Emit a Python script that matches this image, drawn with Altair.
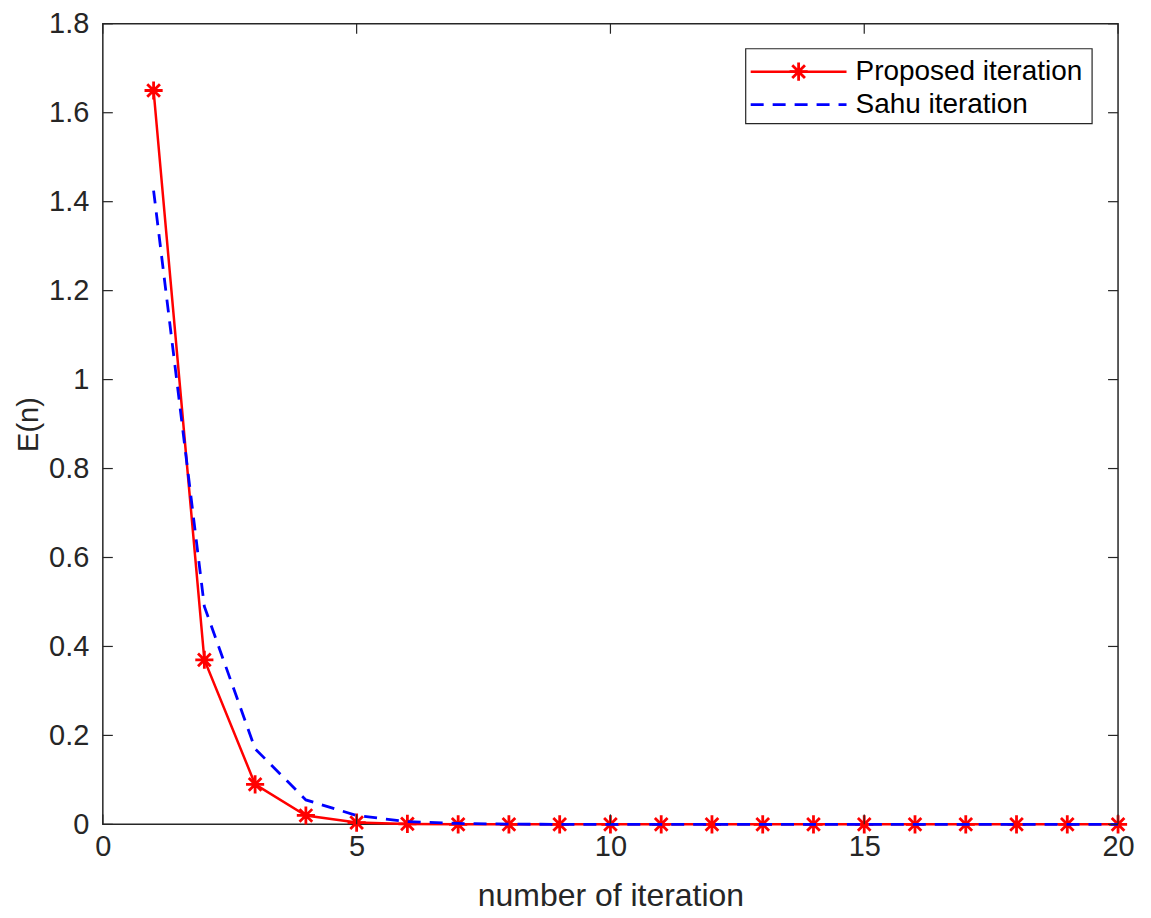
import altair as alt
import pandas as pd

# ---- data ----
iterations = list(range(1, 21))
proposed = [1.65, 0.37, 0.09, 0.02, 0.004, 0.001, 0.0, 0.0, 0.0, 0.0,
            0.0, 0.0, 0.0, 0.0, 0.0, 0.0, 0.0, 0.0, 0.0, 0.0]
sahu = [1.425, 0.49, 0.17, 0.055, 0.02, 0.006, 0.002, 0.0005, 0.0, 0.0,
        0.0, 0.0, 0.0, 0.0, 0.0, 0.0, 0.0, 0.0, 0.0, 0.0]
series_names = ["Proposed iteration", "Sahu iteration"]
x_ticks = [0, 5, 10, 15, 20]
y_ticks = [0, 0.2, 0.4, 0.6, 0.8, 1.0, 1.2, 1.4, 1.6, 1.8]

W, H = 1017, 802
FONT = "Liberation Sans"
TXT = "#262626"
RED = "#ff0000"
BLUE = "#0000ff"
STAR = "M-1,0L1,0M0,-1L0,1M-0.7,-0.7L0.7,0.7M-0.7,0.7L0.7,-0.7"

df_p = pd.DataFrame({"n": iterations, "E": proposed})
df_s = pd.DataFrame({"n": iterations, "E": sahu})
df_xt = pd.DataFrame({"n": x_ticks})
df_yt = pd.DataFrame({"E": y_ticks})
df_one = pd.DataFrame({"name": series_names[:1]})

xs = alt.Scale(domain=[0, 20], nice=False, zero=False)
ys = alt.Scale(domain=[0, 1.8], nice=False)

x_axis = alt.Axis(values=x_ticks, format="~g", ticks=False, grid=False, domain=False,
                  labelFlush=False, labelBound=False,
                  labelFontSize=29, labelFont=FONT, labelColor=TXT, labelPadding=8,
                  title="number of iteration", titleFontSize=32, titleFont=FONT,
                  titleColor=TXT, titleFontWeight="normal", titlePadding=19)
y_axis = alt.Axis(values=y_ticks, format="~g", ticks=False, grid=False, domain=False,
                  labelFlush=False, labelBound=False,
                  labelFontSize=29, labelFont=FONT, labelColor=TXT, labelPadding=14,
                  title="E(n)", titleFontSize=29, titleFont=FONT,
                  titleColor=TXT, titleFontWeight="normal", titlePadding=5)

X = alt.X("n:Q", scale=xs, axis=x_axis)
Y = alt.Y("E:Q", scale=ys, axis=y_axis)

red_line = alt.Chart(df_p).mark_line(color=RED, strokeWidth=2.5).encode(x=X, y=Y)
red_pts = alt.Chart(df_p).mark_point(shape=STAR, stroke=RED, strokeWidth=2.8,
                                     filled=False, size=330, opacity=1).encode(x=X, y=Y)
blue_line = alt.Chart(df_s).mark_line(color=BLUE, strokeWidth=2.8,
                                      strokeDash=[13, 9]).encode(x=X, y=Y)

TL = 10
tick_style = dict(color=TXT, strokeWidth=1.2)
xt_bot = alt.Chart(df_xt).mark_rule(**tick_style).encode(
    x=X, y=alt.value(H), y2=alt.value(H - TL))
xt_top = alt.Chart(df_xt).mark_rule(**tick_style).encode(
    x=X, y=alt.value(0), y2=alt.value(TL))
yt_left = alt.Chart(df_yt).mark_rule(**tick_style).encode(
    y=Y, x=alt.value(0), x2=alt.value(TL))
yt_right = alt.Chart(df_yt).mark_rule(**tick_style).encode(
    y=Y, x=alt.value(W), x2=alt.value(W - TL))

# ---- manual legend (MATLAB style box) ----
LX0, LX1, LY0, LY1 = 644, 991, 25, 100
R1, R2 = 48, 81
SX0, SX1, SXM, TX = 649, 745, 697, 754
leg_box = alt.Chart(df_one).mark_rect(fill="white", stroke=TXT, strokeWidth=1.2).encode(
    x=alt.value(LX0), x2=alt.value(LX1), y=alt.value(LY0), y2=alt.value(LY1))
leg_red = alt.Chart(df_one).mark_rule(color=RED, strokeWidth=2.5).encode(
    x=alt.value(SX0), x2=alt.value(SX1), y=alt.value(R1))
leg_star = alt.Chart(df_one).mark_point(shape=STAR, stroke=RED, strokeWidth=2.8,
                                        filled=False, size=330, opacity=1).encode(
    x=alt.value(SXM), y=alt.value(R1))
leg_blue = alt.Chart(df_one).mark_rule(color=BLUE, strokeWidth=2.8, strokeDash=[13, 9]).encode(
    x=alt.value(SX0), x2=alt.value(SX1), y=alt.value(R2))
leg_t1 = alt.Chart(df_one).mark_text(align="left", baseline="middle", fontSize=28,
                                     font=FONT, color="black").encode(
    x=alt.value(TX), y=alt.value(R1), text=alt.value(series_names[0]))
leg_t2 = alt.Chart(df_one).mark_text(align="left", baseline="middle", fontSize=28,
                                     font=FONT, color="black").encode(
    x=alt.value(TX), y=alt.value(R2), text=alt.value(series_names[1]))

chart = alt.layer(
    red_line, red_pts, blue_line,
    xt_bot, xt_top, yt_left, yt_right,
    leg_box, leg_red, leg_star, leg_blue, leg_t1, leg_t2,
).properties(
    width=W, height=H,
    background="white",
    autosize=alt.AutoSizeParams(type="none"),
    padding={"left": 95, "top": 15, "right": 25, "bottom": 90},
).configure_view(
    stroke=TXT, strokeWidth=1.5
)

chart.save("out.html", embed_options={"renderer": "svg", "actions": False})
